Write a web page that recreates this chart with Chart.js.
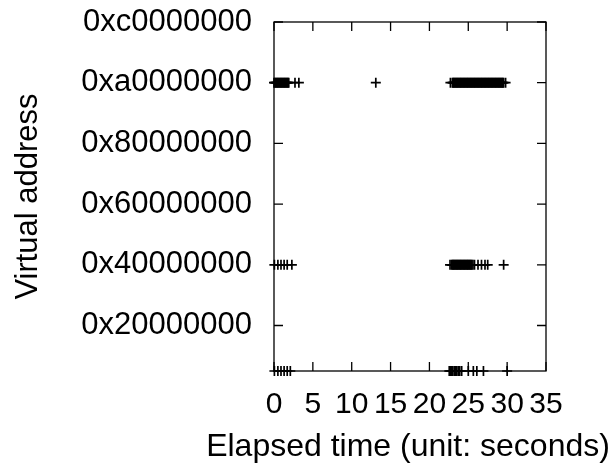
<!DOCTYPE html>
<html>
<head>
<meta charset="utf-8">
<script src="https://cdn.jsdelivr.net/npm/chart.js@4.4.0/dist/chart.umd.min.js"></script>
<style>
  html, body { margin: 0; padding: 0; background: #fff; }
  #wrap { width: 614px; height: 473px; }
</style>
</head>
<body>
<div id="wrap"><canvas id="mem" width="614" height="473"></canvas></div>
<script>
// elapsed time (s) of each sampled access, grouped by address band
var topTimes = [0, 0.1, 0.2, 0.3, 0.4, 0.5, 0.6, 0.7, 0.8, 0.9, 1.0, 1.1, 1.2, 1.3, 1.4, 1.5, 1.6, 1.7, 1.8, 1.9, 2.7, 3.2,
  13.1,
  22.7, 22.95, 23.05, 23.15, 23.25, 23.35, 23.45, 23.55, 23.65, 23.75, 23.85, 23.95, 24.05, 24.15, 24.25, 24.35,
  24.45, 24.55, 24.65, 24.75, 24.85, 24.95, 25.05, 25.15, 25.25, 25.35, 25.45, 25.55, 25.65, 25.75, 25.85,
  25.95, 26.05, 26.15, 26.25, 26.35, 26.45, 26.55, 26.65, 26.75, 26.85, 26.95, 27.05, 27.15, 27.25, 27.35,
  27.45, 27.55, 27.65, 27.75, 27.85, 27.95, 28.05, 28.15, 28.25, 28.35, 28.45, 28.55, 28.65, 28.75, 28.85,
  28.95, 29.05, 29.15, 29.25, 29.35, 29.45, 29.55, 29.8];
var topAddr = 0xa0000000;

var midTimes = [0.05, 0.5, 0.9, 1.3, 1.7, 2.3,
  22.65, 22.85, 22.95, 23.05, 23.15, 23.25, 23.35, 23.45, 23.55, 23.65, 23.75, 23.85, 23.95, 24.05, 24.15,
  24.25, 24.35, 24.45, 24.55, 24.65, 24.75, 24.85, 24.95, 25.05, 25.15, 25.25, 25.35, 25.45, 25.6, 25.8,
  26.25, 26.7, 27.15, 27.5, 29.55];
var midAddr = 0x40000000;

var lowTimes = [0.05, 0.5, 0.9, 1.3, 1.7, 2.1,
  22.55, 22.7, 22.85, 23.0, 23.2, 23.35, 23.5, 23.7, 23.9, 24.15, 25.0, 25.65, 26.1, 26.95, 30.0];
var lowAddr = 0x08048000;

var xTicks = [0, 5, 10, 15, 20, 25, 30, 35];
var yTicks = [0x20000000, 0x40000000, 0x60000000, 0x80000000, 0xa0000000, 0xc0000000];
var yMin = 0x08048000, yMax = 0xc0000000;
var xTitle = 'Elapsed time (unit: seconds)';

function pts(times, addr) {
  return times.map(function (t) { return { x: t, y: addr }; });
}
var points = pts(topTimes, topAddr).concat(pts(midTimes, midAddr), pts(lowTimes, lowAddr));

var FONT = 'Liberation Sans, Arial, Helvetica, sans-serif';

// gnuplot style frame with inward ticks on all four sides, plus the wide x title
var frame = {
  id: 'frame',
  beforeDatasetsDraw: function (chart) {
    var ctx = chart.ctx, a = chart.chartArea, x = chart.scales.x, y = chart.scales.y, tl = 9;
    ctx.save();
    ctx.strokeStyle = '#000';
    ctx.lineWidth = 1.3;
    ctx.strokeRect(a.left, a.top, a.right - a.left, a.bottom - a.top);
    ctx.beginPath();
    xTicks.forEach(function (v) {
      var px = x.getPixelForValue(v);
      ctx.moveTo(px, a.bottom); ctx.lineTo(px, a.bottom - tl);
      ctx.moveTo(px, a.top); ctx.lineTo(px, a.top + tl);
    });
    yTicks.forEach(function (v) {
      var py = y.getPixelForValue(v);
      ctx.moveTo(a.left, py); ctx.lineTo(a.left + tl, py);
      ctx.moveTo(a.right, py); ctx.lineTo(a.right - tl, py);
    });
    ctx.stroke();
    ctx.fillStyle = '#000';
    ctx.font = '32px ' + FONT;
    ctx.textAlign = 'center';
    ctx.textBaseline = 'middle';
    ctx.fillText(xTitle, 408, 447);
    ctx.restore();
  }
};

new Chart(document.getElementById('mem'), {
  type: 'scatter',
  data: {
    datasets: [{
      data: points,
      pointStyle: 'cross',
      pointRadius: 5,
      pointBorderWidth: 1.7,
      borderColor: '#000',
      backgroundColor: '#000',
      clip: false
    }]
  },
  options: {
    responsive: false,
    animation: false,
    devicePixelRatio: 1,
    layout: { autoPadding: false, padding: { left: 0, right: 68, top: 22, bottom: 0 } },
    plugins: { legend: { display: false }, tooltip: { enabled: false } },
    scales: {
      x: {
        type: 'linear', min: 0, max: 35,
        afterBuildTicks: function (s) { s.ticks = xTicks.map(function (v) { return { value: v }; }); },
        afterFit: function (s) { s.height = 102; s.paddingLeft = 0; s.paddingRight = 0; },
        grid: { display: false, drawTicks: false },
        border: { display: false },
        ticks: { color: '#000', font: { family: FONT, size: 30 }, padding: 16, maxRotation: 0, autoSkip: false }
      },
      y: {
        type: 'linear', min: yMin, max: yMax,
        afterBuildTicks: function (s) { s.ticks = yTicks.map(function (v) { return { value: v }; }); },
        afterFit: function (s) { s.width = 274; s.paddingTop = 0; s.paddingBottom = 0; },
        grid: { display: false, drawTicks: false },
        border: { display: false },
        ticks: { color: '#000', font: { family: FONT, size: 31 }, padding: 22, autoSkip: false,
                 callback: function (v) { return '0x' + v.toString(16).padStart(8, '0'); } },
        title: { display: true, text: 'Virtual address', color: '#000',
                 font: { family: FONT, size: 31 }, padding: { top: 10, bottom: 0 } }
      }
    }
  },
  plugins: [frame]
});
</script>
</body>
</html>
